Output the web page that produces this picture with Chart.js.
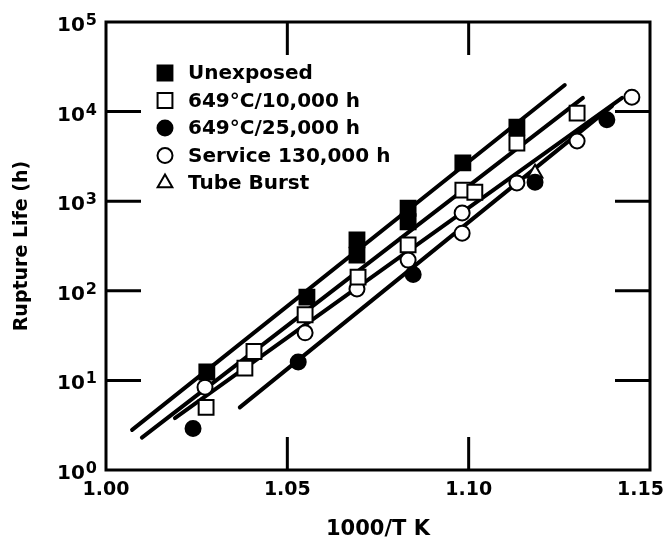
<!DOCTYPE html>
<html>
<head>
<meta charset="utf-8">
<script src="https://cdn.jsdelivr.net/npm/chart.js@4/dist/chart.umd.min.js"></script>
<style>
  html, body { margin: 0; background: #fff; }
  canvas { display: block; }
</style>
</head>
<body>
<canvas id="chart" width="666" height="551"></canvas>
<script>
const xTicks = [1.00, 1.05, 1.10, 1.15]
const yTicks = [1, 10, 100, 1000, 10000, 100000]
const innerXTicks = [1.05, 1.10]
const innerYTicks = [10, 100, 1000, 10000]

const unexposedX = [1.0278, 1.0554, 1.0692, 1.0692, 1.0833, 1.0833, 1.0984, 1.1133]
const unexposedY = [12.4, 85, 370, 250, 835, 590, 2680, 6700]
const aged10kX = [1.0276, 1.0383, 1.0408, 1.0549, 1.0695, 1.0833, 1.0984, 1.1017, 1.1133, 1.1299]
const aged10kY = [5.0, 13.7, 21, 54, 142, 325, 1330, 1260, 4450, 9600]
const aged25kX = [1.024, 1.053, 1.0847, 1.1183, 1.1381]
const aged25kY = [2.9, 16, 152, 1630, 8100]
const serviceX = [1.0273, 1.0549, 1.0692, 1.0833, 1.0982, 1.0982, 1.1133, 1.1299, 1.145]
const serviceY = [8.4, 34, 105, 220, 740, 440, 1600, 4700, 14500]
const burstX = [1.1183]
const burstY = [2050]

// fitted lines, two end points each
const fitUnexposedX = [1.0072, 1.1265]
const fitUnexposedY = [2.8, 19800]
const fit10kX = [1.0099, 1.1315]
const fit10kY = [2.3, 14200]
const fitServiceX = [1.019, 1.1423]
const fitServiceY = [3.8, 14200]
const fit25kX = [1.0369, 1.1395]
const fit25kY = [5.0, 11500]

const labels = ['Unexposed', '649°C/10,000 h', '649°C/25,000 h', 'Service 130,000 h', 'Tube Burst']

const FONT = '"DejaVu Sans", "Liberation Sans", sans-serif'

const pts = (xs, ys) => xs.map((x, i) => ({ x, y: ys[i] }))

const markers = [
  { pointStyle: 'rect', radius: 10.5, fill: '#000' },
  { pointStyle: 'rect', radius: 10.5, fill: '#fff' },
  { pointStyle: 'circle', radius: 7.5, fill: '#000' },
  { pointStyle: 'circle', radius: 7.5, fill: '#fff' },
  { pointStyle: 'triangle', radius: 8.5, fill: '#fff' }
]

const scatterSet = (xs, ys, i) => ({
  label: labels[i],
  data: pts(xs, ys),
  showLine: false,
  order: 1,
  pointStyle: markers[i].pointStyle,
  pointRadius: markers[i].radius,
  pointBackgroundColor: markers[i].fill,
  pointBorderColor: '#000',
  pointBorderWidth: 2
})

const lineSet = (xs, ys) => ({
  data: pts(xs, ys),
  showLine: true,
  order: 2,
  borderColor: '#000',
  borderWidth: 4,
  pointRadius: 0,
  borderCapStyle: 'round'
})

const framePlugin = {
  id: 'frame',
  afterDraw: chart => {
    const { ctx, chartArea: a, scales } = chart
    ctx.save()
    ctx.strokeStyle = '#000'
    ctx.fillStyle = '#000'
    ctx.lineWidth = 3
    ctx.strokeRect(a.left, a.top, a.right - a.left, a.bottom - a.top)
    ctx.beginPath()
    innerXTicks.forEach(v => {
      const px = scales.x.getPixelForValue(v)
      ctx.moveTo(px, a.bottom); ctx.lineTo(px, a.bottom - 33)
      ctx.moveTo(px, a.top); ctx.lineTo(px, a.top + 33)
    })
    innerYTicks.forEach(v => {
      const py = scales.y.getPixelForValue(v)
      ctx.moveTo(a.left, py); ctx.lineTo(a.left + 35, py)
      ctx.moveTo(a.right, py); ctx.lineTo(a.right - 35, py)
    })
    ctx.stroke()

    // x tick labels, last one kept inside the page
    ctx.font = 'bold 19px ' + FONT
    ctx.textAlign = 'center'
    ctx.textBaseline = 'middle'
    xTicks.forEach(v => {
      const txt = v.toFixed(2)
      const w = ctx.measureText(txt).width
      const px = Math.min(scales.x.getPixelForValue(v), chart.width - 2 - w / 2)
      ctx.fillText(txt, px, a.bottom + 20)
    })

    // y tick labels as 10 with a raised exponent
    ctx.textAlign = 'left'
    ctx.textBaseline = 'alphabetic'
    yTicks.forEach(v => {
      const py = scales.y.getPixelForValue(v)
      const exp = String(Math.round(Math.log10(v)))
      ctx.font = 'bold 16px ' + FONT
      const ew = ctx.measureText(exp).width
      ctx.font = 'bold 20px ' + FONT
      const bw = ctx.measureText('10').width
      const right = a.left - 9
      ctx.fillText('10', right - ew - 1 - bw, py + 9)
      ctx.font = 'bold 16px ' + FONT
      ctx.fillText(exp, right - ew, py + 3)
    })

    // legend in the upper left of the plot
    ctx.font = 'bold 20px ' + FONT
    ctx.textBaseline = 'middle'
    labels.forEach((txt, i) => {
      const y = 73 + i * 27.5
      const m = markers[i]
      ctx.fillStyle = m.fill
      ctx.strokeStyle = '#000'
      ctx.lineWidth = 2
      Chart.helpers.drawPoint(ctx, { pointStyle: m.pointStyle, radius: m.radius, rotation: 0, borderWidth: 2 }, 165, y)
      ctx.fillStyle = '#000'
      ctx.fillText(txt, 188, y + 1)
    })
    ctx.restore()
  }
}

new Chart(document.getElementById('chart'), {
  type: 'scatter',
  data: {
    datasets: [
      lineSet(fitUnexposedX, fitUnexposedY),
      lineSet(fit10kX, fit10kY),
      lineSet(fitServiceX, fitServiceY),
      lineSet(fit25kX, fit25kY),
      scatterSet(unexposedX, unexposedY, 0),
      scatterSet(aged10kX, aged10kY, 1),
      scatterSet(aged25kX, aged25kY, 2),
      scatterSet(serviceX, serviceY, 3),
      scatterSet(burstX, burstY, 4)
    ]
  },
  options: {
    responsive: false,
    animation: false,
    layout: { padding: { left: 0, top: 22, right: 16, bottom: 0 } },
    plugins: { legend: { display: false }, tooltip: { enabled: false } },
    scales: {
      x: {
        type: 'linear',
        min: 1.00,
        max: 1.15,
        afterBuildTicks: s => { s.ticks = xTicks.map(value => ({ value })) },
        afterFit: s => { s.height = 81; s.paddingLeft = 0; s.paddingRight = 0 },
        grid: { display: false, drawTicks: false },
        border: { display: false },
        ticks: { display: false },
        title: {
          display: true,
          text: '1000/T K',
          color: '#000',
          padding: { top: 0, bottom: 9 },
          font: { family: FONT, weight: 'bold', size: 21 }
        }
      },
      y: {
        type: 'logarithmic',
        min: 1,
        max: 100000,
        afterBuildTicks: s => { s.ticks = yTicks.map(value => ({ value })) },
        afterFit: s => { s.width = 106; s.paddingTop = 0; s.paddingBottom = 0 },
        grid: { display: false, drawTicks: false },
        border: { display: false },
        ticks: { display: false },
        title: {
          display: true,
          text: 'Rupture Life (h)',
          color: '#000',
          padding: { top: 11, bottom: 0 },
          font: { family: FONT, weight: 'bold', size: 19 }
        }
      }
    }
  },
  plugins: [framePlugin]
})
</script>
</body>
</html>
